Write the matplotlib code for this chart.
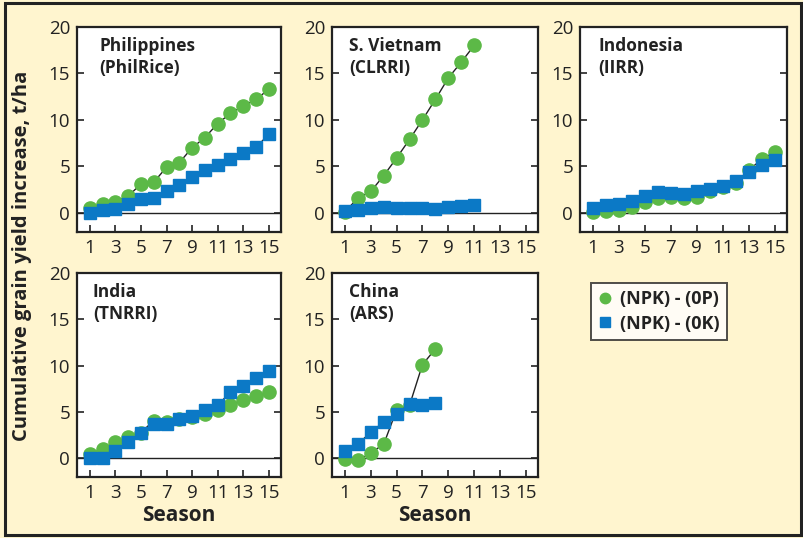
import numpy as np
import matplotlib.pyplot as plt
from matplotlib.patches import Rectangle

plt.rcParams['font.family'] = ['Open Sans', 'DejaVu Sans']

green = '#5cb947'
blue = '#0b79c6'
bg = '#fff5cf'

# cumulative yield increase (t/ha), (NPK)-(0P) and (NPK)-(0K)
phil_p = [0.5, 0.9, 1.2, 1.8, 3.1, 3.3, 4.9, 5.4, 7.0, 8.1, 9.6, 10.7, 11.5, 12.2, 13.3]
phil_k = [0.0, 0.35, 0.45, 1.0, 1.45, 1.6, 2.3, 3.0, 3.9, 4.6, 5.1, 5.75, 6.4, 7.05, 8.45]

viet_p = [0.1, 1.6, 2.3, 4.0, 5.9, 7.9, 10.0, 12.2, 14.5, 16.2, 18.0]
viet_k = [0.2, 0.35, 0.5, 0.6, 0.47, 0.47, 0.47, 0.43, 0.65, 0.72, 0.85]

indo_p = [0.07, 0.15, 0.35, 0.6, 1.15, 1.55, 1.75, 1.6, 1.75, 2.3, 2.8, 3.25, 4.6, 5.75, 6.55]
indo_k = [0.55, 0.8, 1.0, 1.25, 1.8, 2.2, 2.15, 2.0, 2.35, 2.6, 2.9, 3.4, 4.4, 5.15, 5.7]

india_p = [0.45, 1.0, 1.7, 2.3, 2.75, 4.05, 3.85, 4.2, 4.45, 4.8, 5.15, 5.75, 6.3, 6.7, 7.1]
india_k = [0.0, 0.0, 0.8, 1.7, 2.7, 3.7, 3.65, 4.2, 4.55, 5.2, 5.7, 7.15, 7.75, 8.7, 9.45]

china_p = [-0.15, -0.25, 0.55, 1.5, 5.2, 5.7, 10.1, 11.8]
china_k = [0.8, 1.5, 2.8, 3.9, 4.8, 5.8, 5.7, 6.0]

titles = ['Philippines\n(PhilRice)', 'S. Vietnam\n(CLRRI)', 'Indonesia\n(IIRR)',
          'India\n(TNRRI)', 'China\n(ARS)']
series = [(phil_p, phil_k), (viet_p, viet_k), (indo_p, indo_k),
          (india_p, india_k), (china_p, china_k)]
xticks = [1, 3, 5, 7, 9, 11, 13, 15]
yticks = [0, 5, 10, 15, 20]

fig = plt.figure(figsize=(8.04, 5.38), dpi=100, facecolor=bg)

# left, bottom, width, height in figure fractions
boxes = [(0.0958, 0.569, 0.2537, 0.381),
         (0.413, 0.569, 0.2562, 0.381),
         (0.7214, 0.569, 0.2575, 0.381),
         (0.0958, 0.1134, 0.2537, 0.379),
         (0.413, 0.1134, 0.2562, 0.379)]
title_x = [0.11, 0.083, 0.087, 0.078, 0.083]


def panel(ax, p, k, title, tx):
    ax.axhline(0, color='#222222', lw=1.0, zorder=1)
    xp = np.arange(1, len(p) + 1)
    xk = np.arange(1, len(k) + 1)
    ax.plot(xp, p, color='#222222', lw=1.0, marker='o', ms=9.5,
            mfc=green, mec=green, zorder=2)
    ax.plot(xk, k, color='#222222', lw=1.0, marker='s', ms=8.2,
            mfc=blue, mec=blue, zorder=3)
    ax.set_xlim(0, 15.95)
    ax.set_ylim(-2.05, 20)
    ax.set_xticks(xticks)
    ax.set_yticks(yticks)
    ax.tick_params(axis='both', direction='in', length=5, width=1.2,
                   labelsize=13.5, colors='#222222', pad=5)
    ax.tick_params(axis='y', right=True, pad=5)
    for s in ax.spines.values():
        s.set_linewidth(1.6)
        s.set_color('#222222')
    ax.text(tx, 0.95, title, transform=ax.transAxes, ha='left', va='top',
            fontsize=12.5, fontweight='bold', color='#222222', linespacing=1.3)


axes = []
for b, (p, k), t, tx in zip(boxes, series, titles, title_x):
    ax = fig.add_axes(b)
    panel(ax, p, k, t, tx)
    axes.append(ax)

for ax in axes[3:]:
    ax.set_xlabel('Season', fontsize=15, fontweight='bold', color='#222222', labelpad=2)

fig.text(0.027, 0.525, 'Cumulative grain yield increase, t/ha', rotation=90,
         ha='center', va='center', fontsize=14.5, fontweight='bold', color='#222222')

h1 = plt.Line2D([], [], ls='none', marker='o', ms=7.5, mfc=green, mec=green)
h2 = plt.Line2D([], [], ls='none', marker='s', ms=6.5, mfc=blue, mec=blue)
leg = fig.legend([h1, h2], ['(NPK) - (0P)', '(NPK) - (0K)'],
                 loc='upper left', bbox_to_anchor=(0.735, 0.474),
                 prop={'size': 13, 'weight': 'bold'}, frameon=True, fancybox=False,
                 handlelength=0.8, handletextpad=0.4, borderpad=0.4,
                 labelspacing=0.35, borderaxespad=0)
leg.get_frame().set_edgecolor('#222222')
leg.get_frame().set_linewidth(1.4)
for t in leg.get_texts():
    t.set_color('#222222')

# outer frame of the figure
fig.patches.append(Rectangle((0.006, 0.006), 0.99, 0.988, transform=fig.transFigure,
                             fill=False, ec='#222222', lw=2.2))

fig.savefig('out.png', dpi=100, facecolor=bg)
